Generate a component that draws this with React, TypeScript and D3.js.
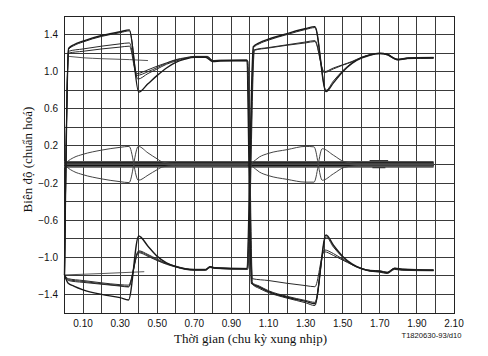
import React from "react";
import * as d3 from "d3";

type Pt = [number, number];

// Axis ticks
const xTickLabels = [0.1, 0.3, 0.5, 0.7, 0.9, 1.1, 1.3, 1.5, 1.7, 1.9, 2.1];
const yTickLabels = [1.4, 1.0, 0.6, 0.2, -0.2, -0.6, -1.0, -1.4];
const xGrid = d3.range(0, 22).map((i) => i / 10);
const yGrid = d3.range(-8, 9).map((i) => i / 5);

// Traces: positive in first clock period, negative in second
const traceA1: Pt[] = [[0.0,-1.19],[0.022,1.25],[0.05,1.29],[0.1,1.33],[0.2,1.39],[0.3,1.43],[0.35,1.45],[0.40,0.78],[0.45,0.87],[0.5,0.96],[0.55,1.04],[0.6,1.10],[0.65,1.135],[0.7,1.155],[0.76,1.155],[0.8,1.11],[0.84,1.115],[0.982,1.12],[1.008,-1.28],[1.05,-1.32],[1.1,-1.37],[1.2,-1.43],[1.3,-1.475],[1.35,-1.5],[1.41,-0.76],[1.45,-0.87],[1.5,-0.99],[1.55,-1.07],[1.6,-1.12],[1.65,-1.145],[1.7,-1.15],[1.74,-1.165],[1.78,-1.12],[1.82,-1.13],[1.99,-1.14]];
const traceA2: Pt[] = [[0.0,-1.19],[0.022,1.24],[0.05,1.28],[0.1,1.32],[0.2,1.38],[0.3,1.42],[0.35,1.44],[0.395,0.92],[0.45,0.98],[0.5,1.03],[0.55,1.08],[0.6,1.115],[0.65,1.14],[0.7,1.16],[0.77,1.16],[0.8,1.115],[0.84,1.12],[0.984,1.125],[1.01,-1.27],[1.05,-1.31],[1.1,-1.36],[1.2,-1.42],[1.3,-1.465],[1.35,-1.485],[1.41,-0.78],[1.45,-0.89],[1.5,-1.0],[1.55,-1.08],[1.6,-1.125],[1.65,-1.15],[1.7,-1.155],[1.74,-1.17],[1.78,-1.125],[1.82,-1.135],[1.99,-1.14]];
const traceA3: Pt[] = [[0.0,-1.19],[0.022,1.22],[0.1,1.245],[0.2,1.275],[0.3,1.30],[0.35,1.31],[0.39,0.98],[0.45,1.02],[0.5,1.06],[0.55,1.095],[0.6,1.13],[0.65,1.15],[0.7,1.165],[0.77,1.165],[0.8,1.12],[0.84,1.125],[0.986,1.125],[1.012,-1.23],[1.1,-1.25],[1.2,-1.28],[1.3,-1.305],[1.35,-1.317],[1.40,-0.94],[1.45,-0.98],[1.5,-1.03],[1.55,-1.08],[1.6,-1.12],[1.65,-1.14],[1.7,-1.145],[1.74,-1.16],[1.78,-1.115],[1.82,-1.125],[1.99,-1.135]];
const traceA4: Pt[] = [[0.0,-1.19],[0.022,1.2],[0.1,1.22],[0.2,1.245],[0.3,1.265],[0.35,1.275],[0.39,0.96],[0.45,1.0],[0.5,1.045],[0.55,1.09],[0.6,1.125],[0.65,1.145],[0.7,1.16],[0.77,1.16],[0.8,1.12],[0.84,1.12],[0.988,1.115],[1.014,-1.29],[1.05,-1.335],[1.1,-1.38],[1.2,-1.44],[1.3,-1.49],[1.35,-1.52],[1.40,-0.92],[1.45,-0.96],[1.5,-1.02],[1.55,-1.075],[1.6,-1.12],[1.65,-1.15],[1.7,-1.16],[1.74,-1.175],[1.78,-1.13],[1.82,-1.14],[1.99,-1.145]];

// Traces: negative in first clock period, positive in second
const traceB1: Pt[] = [[0.0,-1.19],[0.02,-1.28],[0.05,-1.31],[0.1,-1.35],[0.2,-1.40],[0.3,-1.435],[0.345,-1.46],[0.40,-0.77],[0.45,-0.88],[0.5,-0.99],[0.55,-1.06],[0.6,-1.10],[0.65,-1.125],[0.7,-1.135],[0.76,-1.135],[0.785,-1.10],[0.81,-1.115],[0.982,-1.125],[1.018,1.27],[1.05,1.31],[1.1,1.35],[1.2,1.41],[1.3,1.465],[1.35,1.485],[1.41,0.785],[1.45,0.88],[1.5,1.0],[1.55,1.09],[1.6,1.145],[1.65,1.18],[1.7,1.195],[1.74,1.185],[1.78,1.14],[1.8,1.13],[1.85,1.145],[1.99,1.15]];
const traceB2: Pt[] = [[0.0,-1.19],[0.02,-1.24],[0.1,-1.26],[0.2,-1.285],[0.3,-1.305],[0.345,-1.315],[0.40,-0.94],[0.45,-0.98],[0.5,-1.03],[0.55,-1.07],[0.6,-1.10],[0.65,-1.125],[0.7,-1.13],[0.76,-1.13],[0.785,-1.105],[0.81,-1.115],[0.984,-1.12],[1.02,1.26],[1.05,1.30],[1.1,1.34],[1.2,1.40],[1.3,1.455],[1.35,1.475],[1.41,0.8],[1.45,0.9],[1.5,1.01],[1.55,1.095],[1.6,1.15],[1.65,1.185],[1.7,1.2],[1.74,1.19],[1.78,1.145],[1.8,1.135],[1.85,1.15],[1.99,1.155]];
const traceB3: Pt[] = [[0.0,-1.19],[0.02,-1.23],[0.1,-1.25],[0.2,-1.275],[0.3,-1.295],[0.345,-1.30],[0.40,-0.93],[0.45,-0.97],[0.5,-1.02],[0.55,-1.065],[0.6,-1.095],[0.65,-1.12],[0.7,-1.13],[0.76,-1.13],[0.785,-1.1],[0.81,-1.11],[0.986,-1.12],[1.022,1.235],[1.1,1.26],[1.2,1.29],[1.3,1.32],[1.35,1.335],[1.40,1.0],[1.45,1.04],[1.5,1.075],[1.55,1.11],[1.6,1.155],[1.65,1.185],[1.7,1.2],[1.74,1.19],[1.78,1.14],[1.8,1.13],[1.85,1.145],[1.99,1.15]];
const traceB4: Pt[] = [[0.0,-1.19],[0.02,-1.25],[0.1,-1.27],[0.2,-1.29],[0.3,-1.31],[0.345,-1.32],[0.40,-0.95],[0.45,-0.99],[0.5,-1.035],[0.55,-1.075],[0.6,-1.105],[0.65,-1.13],[0.7,-1.14],[0.76,-1.14],[0.785,-1.11],[0.81,-1.12],[0.988,-1.13],[1.024,1.23],[1.1,1.255],[1.2,1.285],[1.3,1.31],[1.35,1.325],[1.40,0.99],[1.45,1.03],[1.5,1.07],[1.55,1.105],[1.6,1.15],[1.65,1.18],[1.7,1.195],[1.74,1.18],[1.78,1.135],[1.8,1.125],[1.85,1.14],[1.99,1.145]];

// Slow traces in first period
const slowUpper: Pt[] = [[0.022,1.165],[0.1,1.15],[0.2,1.14],[0.35,1.13],[0.45,1.12]];
const slowLower: Pt[] = [[0.0,-1.19],[0.2,-1.175],[0.43,-1.155]];

// Near-zero traces
const zeroUp: Pt[] = [[0.0,0.0],[0.015,0.03],[0.05,0.075],[0.1,0.11],[0.2,0.155],[0.3,0.185],[0.348,0.195],[0.398,-0.17],[0.45,-0.115],[0.5,-0.055],[0.53,-0.025],[0.6,-0.01],[0.985,-0.01],[1.0,0.0],[1.01,-0.015],[1.05,-0.08],[1.1,-0.12],[1.2,-0.16],[1.3,-0.19],[1.345,-0.19],[1.39,0.17],[1.45,0.1],[1.51,0.03],[1.6,0.01],[1.99,0.01]];
const zeroDown: Pt[] = [[0.0,0.0],[0.015,-0.03],[0.05,-0.075],[0.1,-0.11],[0.2,-0.155],[0.3,-0.185],[0.348,-0.195],[0.398,0.195],[0.45,0.125],[0.5,0.06],[0.53,0.025],[0.6,0.01],[0.985,0.01],[1.0,0.0],[1.01,0.015],[1.05,0.08],[1.1,0.12],[1.2,0.16],[1.3,0.195],[1.345,0.19],[1.39,-0.17],[1.45,-0.1],[1.51,-0.03],[1.6,-0.01],[1.99,-0.01]];
const bandLevels = [0.03, 0.02, 0.01, 0.0, -0.01, -0.02, -0.028];
const bandDark = [0.018, -0.01];
const bandStart = 0.0;
const bandEnd = 1.99;
const blipUp: Pt[] = [[1.645,0.042],[1.745,0.042]];
const blipDown: Pt[] = [[1.66,-0.034],[1.73,-0.034]];

const thinTraces = [traceA2, traceA3, traceA4, traceB2, traceB3, traceB4];
const thickTraces = [traceA1, traceB1];

const W = 488, H = 356;
const x = d3.scaleLinear().domain([0, 2.1]).range([64.5, 454]);
const y = d3.scaleLinear().domain([-1.6, 1.6]).range([313, 16]);
const line = d3.line<Pt>().x((d) => x(d[0])).y((d) => y(d[1])).curve(d3.curveMonotoneX);
const straight = d3.line<Pt>().x((d) => x(d[0])).y((d) => y(d[1]));

const fmtX = (v: number) => v.toFixed(2);
const fmtY = (v: number) => (v < 0 ? "\u2212" + Math.abs(v).toFixed(1) : v.toFixed(1));

export default function App() {
  return (
    <svg width={W} height={H} style={{ position: "absolute", left: 0, top: 0, background: "#fff" }}>
      <rect x={0} y={0} width={W} height={H} fill="#fff" />
      <g shapeRendering="crispEdges">
        {xGrid.map((v, i) => (
          <line key={"gx" + i} x1={x(v)} x2={x(v)} y1={y(1.6)} y2={y(-1.6)} stroke="#3a3a3a" strokeWidth={1} />
        ))}
        {yGrid.map((v, i) => (
          <line key={"gy" + i} x1={x(0)} x2={x(2.1)} y1={y(v)} y2={y(v)} stroke="#3a3a3a" strokeWidth={1} />
        ))}
        <rect x={x(0)} y={y(1.6)} width={x(2.1) - x(0)} height={y(-1.6) - y(1.6)} fill="none" stroke="#222" strokeWidth={1} />
      </g>
      <g fill="none" strokeLinejoin="round">
        {bandLevels.map((v, i) => (
          <path key={"b" + i} d={straight([[bandStart, v], [bandEnd, v]]) || ""} stroke="#555" strokeWidth={1.5} />
        ))}
        {bandDark.map((v, i) => (
          <path key={"bd" + i} d={straight([[bandStart, v], [bandEnd, v]]) || ""} stroke="#111" strokeWidth={1} />
        ))}
        <path d={straight(blipUp) || ""} stroke="#333" strokeWidth={1.2} />
        <path d={straight(blipDown) || ""} stroke="#333" strokeWidth={1.2} />
        <path d={line(zeroUp) || ""} stroke="#444" strokeWidth={1} />
        <path d={line(zeroDown) || ""} stroke="#444" strokeWidth={1} />
        <path d={line(slowUpper) || ""} stroke="#444" strokeWidth={0.9} />
        <path d={line(slowLower) || ""} stroke="#444" strokeWidth={0.9} />
        {thinTraces.map((t, i) => (
          <path key={"t" + i} d={line(t) || ""} stroke="#2a2a2a" strokeWidth={1} />
        ))}
        {thickTraces.map((t, i) => (
          <path key={"k" + i} d={line(t) || ""} stroke="#1a1a1a" strokeWidth={1.4} />
        ))}
      </g>
      <g fontFamily="'Liberation Sans', Arial, sans-serif" fontSize={10} fill="#111">
        {yTickLabels.map((v, i) => (
          <text key={"yl" + i} x={58} y={y(v)} dy="0.35em" textAnchor="end">{fmtY(v)}</text>
        ))}
        {xTickLabels.map((v, i) => (
          <text key={"xl" + i} x={x(v)} y={327} textAnchor="middle">{fmtX(v)}</text>
        ))}
        <text x={401.5} y={338} fontSize={7.6}>T1820630-93/d10</text>
      </g>
      <g fontFamily="'Liberation Serif', 'Times New Roman', serif" fontSize={13} fill="#111">
        <text x={250.5} y={343} textAnchor="middle">Thời gian (chu kỳ xung nhịp)</text>
        <text transform={`translate(32,159.5) rotate(-90)`} textAnchor="middle">Biên độ (chuẩn hoá)</text>
      </g>
    </svg>
  );
}
